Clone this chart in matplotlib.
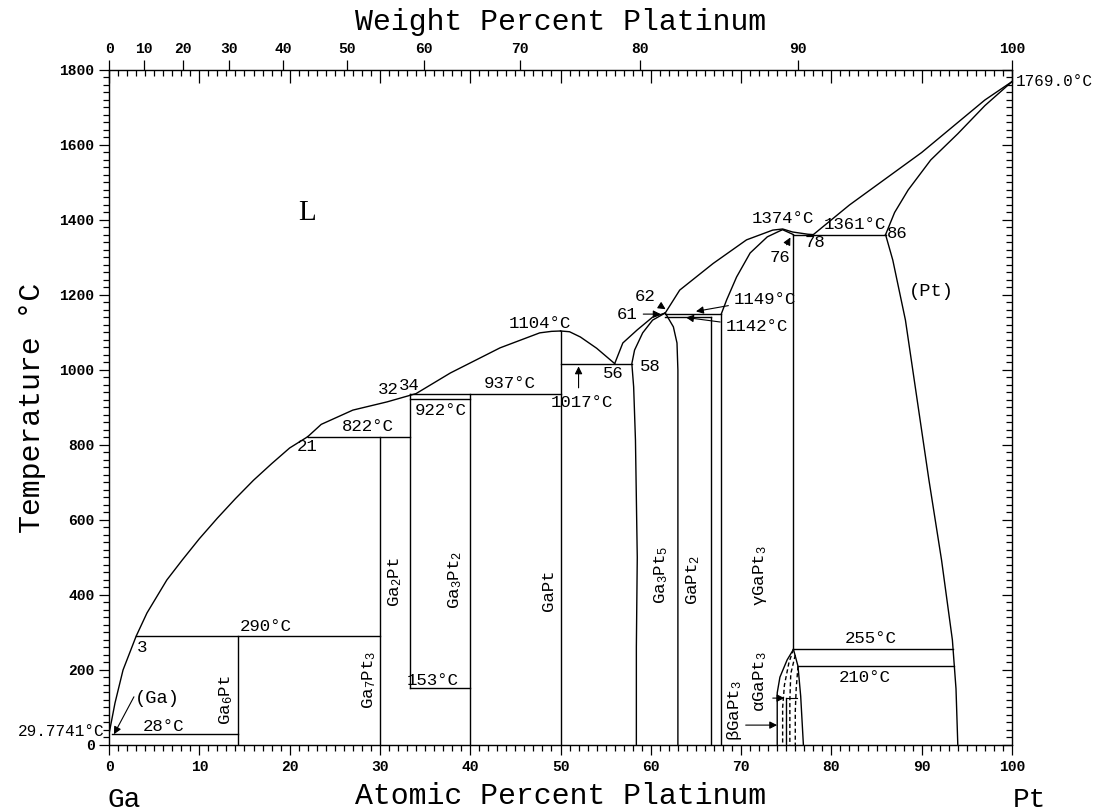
import numpy as np
import matplotlib
matplotlib.use('Agg')
import matplotlib.pyplot as plt

plt.rcParams['font.family'] = ['Liberation Mono', 'DejaVu Sans']
plt.rcParams['mathtext.fontset'] = 'custom'
plt.rcParams['mathtext.rm'] = 'Liberation Mono'
plt.rcParams['mathtext.it'] = 'Liberation Mono'

M_GA = 69.723
M_PT = 195.084

# liquidus pieces (at.% Pt, deg C)
liq1_at = [0, 0.66, 1.55, 3.0, 4.2, 6.4, 8.1, 10, 12, 14, 16, 18, 20, 22]
liq1_T = [29.8, 112, 200, 290, 352, 440, 493, 550, 605, 657, 706, 750, 792, 822]
liq2_at = [22, 23.5, 27.0, 30.8, 34.0, 37.8, 43.3, 47.7, 49, 50]
liq2_T = [822, 855, 893, 915, 937, 992, 1059, 1099, 1103, 1104]
liq3_at = [50, 51, 52.2, 54, 56]
liq3_T = [1104, 1102, 1088, 1058, 1017]
liq4_at = [56, 56.9, 58.5, 60.2, 61.6]
liq4_T = [1017, 1072, 1107, 1141, 1152]
liq5_at = [61.6, 63.2, 66.9, 70.6, 73.5, 74.6, 75.7, 77.4, 78]
liq5_T = [1152, 1213, 1284, 1347, 1373, 1376, 1368, 1362, 1361]
liq6_at = [78, 82, 86, 90, 94, 97, 100]
liq6_T = [1361, 1440, 1510, 1580, 1660, 1720, 1769]

# solidus / solvus pieces
ga3pt5_left_at = [58.4, 58.4, 58.5, 58.3, 58.1, 57.9, 58.2, 59.1, 60.2, 61.6]
ga3pt5_left_T = [0, 261, 500, 813, 955, 1017, 1053, 1099, 1133, 1152]
ga3pt5_right_at = [61.6, 62.5, 62.9, 63.0, 63.0]
ga3pt5_right_T = [1152, 1115, 1072, 1000, 0]
gamma_sol_at = [67.8, 68.4, 69.5, 71.0, 72.9, 74.3, 74.6, 75.8]
gamma_sol_T = [1149, 1187, 1248, 1312, 1355, 1371, 1374, 1361]
pt_sol_at = [86, 87, 88.5, 91, 94, 97, 100]
pt_sol_T = [1361, 1420, 1480, 1560, 1630, 1705, 1769]
pt_solvus_at = [86, 86.8, 88.2, 89.5, 90.8, 92.2, 93.4, 93.8, 94.0]
pt_solvus_T = [1361, 1293, 1133, 920, 707, 493, 280, 150, 0]

# GaPt3 low temperature boundaries
gp3_solid = [([75.8, 75.1, 74.3, 74.0, 74.0], [255, 227, 181, 139, 0]),
             ([75.0, 75.0], [0, 125]),
             ([75.8, 76.3, 76.6, 76.9], [255, 210, 130, 0])]
gp3_dashed = [([75.8, 75.3, 74.8, 74.6, 74.6], [255, 220, 160, 100, 0]),
              ([76.0, 75.5, 75.4, 75.4], [240, 190, 120, 0]),
              ([76.3, 76.1, 76.0, 76.0], [210, 150, 90, 0])]

# invariant lines: (T, x1, x2)
hlines = [(28, 0.3, 14.3), (290, 3.0, 30), (153, 33.3, 40), (822, 22, 33.3),
          (922, 33.3, 40), (937, 33.3, 50), (1017, 50, 57.9),
          (1142, 61.6, 66.7), (1149, 61.6, 67.8), (1361, 75.8, 86)]
# compound lines: (x, T1, T2)
vlines = [(14.3, 0, 290), (30, 0, 822), (33.3, 153, 937), (40, 0, 937),
          (50, 0, 1104), (66.7, 0, 1142), (67.8, 0, 1149), (75.8, 255, 1361)]
solvus_lines = [(255, 75.8), (210, 76.3)]

wt_ticks = np.arange(0, 101, 10)


def wt_to_at(w):
    a = w / M_PT
    b = (100 - w) / M_GA
    return 100 * a / (a + b)


fig = plt.figure(figsize=(10.97, 8.11), dpi=100)
ax = fig.add_axes([0.0994, 0.0814, 0.8231, 0.8323])
ax.set_xlim(0, 100)
ax.set_ylim(0, 1800)

lw = 1.0
for xs, ys in [(liq1_at, liq1_T), (liq2_at, liq2_T), (liq3_at, liq3_T),
               (liq4_at, liq4_T), (liq5_at, liq5_T), (liq6_at, liq6_T),
               (ga3pt5_left_at, ga3pt5_left_T), (ga3pt5_right_at, ga3pt5_right_T),
               (gamma_sol_at, gamma_sol_T), (pt_sol_at, pt_sol_T),
               (pt_solvus_at, pt_solvus_T)]:
    ax.plot(xs, ys, color='k', lw=lw)
for xs, ys in gp3_solid:
    ax.plot(xs, ys, color='k', lw=lw)
for xs, ys in gp3_dashed:
    ax.plot(xs, ys, color='k', lw=lw, ls=(0, (3, 2)))
for T, x1, x2 in hlines:
    ax.plot([x1, x2], [T, T], color='k', lw=lw)
for x, T1, T2 in vlines:
    ax.plot([x, x], [T1, T2], color='k', lw=lw)
for T, x1 in solvus_lines:
    x2 = np.interp(T, pt_solvus_T[::-1], pt_solvus_at[::-1])
    ax.plot([x1, x2], [T, T], color='k', lw=lw)

# text labels
fs = 12.5
labels = [
    (21.9, 1419, 'L', 21), (91.1, 1208, '(Pt)', 13.5),
    (74.6, 1405, '1374°C', fs), (82.6, 1387, '1361°C', fs),
    (87.3, 1363, '86', fs), (78.2, 1339, '78', fs),
    (55.8, 990, '56', fs), (59.9, 1008, '58', fs),
    (52.4, 912, '1017°C', fs), (47.7, 1125, '1104°C', fs),
    (44.4, 965, '937°C', fs), (36.7, 893, '922°C', fs),
    (28.7, 848, '822°C', fs), (30.9, 947, '32', fs), (33.3, 958, '34', fs),
    (21.9, 795, '21', fs), (17.3, 317, '290°C', fs), (3.6, 259, '3', fs),
    (6.0, 48, '28°C', fs), (5.4, 125, '(Ga)', 13.5),
    (35.8, 172, '153°C', fs), (84.3, 283, '255°C', fs), (83.7, 181, '210°C', fs),
]
for x, y, s, size in labels:
    ax.text(x, y, s, ha='center', va='center', fontsize=size,
            family=['Liberation Mono', 'DejaVu Sans'] if s != 'L' else 'Liberation Serif')

ax.text(100.4, 1769, '1769.0°C', ha='left', va='center', fontsize=11.5)
ax.text(-0.5, 36, '29.7741°C', ha='right', va='center', fontsize=11.5)

# arrows with labels
arrow_kw = dict(arrowstyle='-|>', color='k', lw=0.8, mutation_scale=11)
ax.annotate('1149°C', xy=(64.7, 1155), xytext=(69.2, 1189), fontsize=fs,
            ha='left', va='center', arrowprops=arrow_kw)
ax.annotate('1142°C', xy=(63.6, 1141), xytext=(68.3, 1115), fontsize=fs,
            ha='left', va='center', arrowprops=arrow_kw)
ax.annotate('62', xy=(61.9, 1158), xytext=(59.4, 1197), fontsize=fs,
            ha='center', va='center', arrowprops=arrow_kw)
ax.annotate('61', xy=(61.4, 1149), xytext=(57.4, 1149), fontsize=fs,
            ha='center', va='center', arrowprops=arrow_kw)
ax.annotate('76', xy=(75.6, 1360), xytext=(74.3, 1300), fontsize=fs,
            ha='center', va='center', arrowprops=arrow_kw)
ax.annotate('', xy=(52.0, 1017), xytext=(52.0, 945), arrowprops=arrow_kw)
ax.annotate('', xy=(0.4, 22), xytext=(2.9, 135), arrowprops=arrow_kw)
ax.annotate('', xy=(75.1, 125), xytext=(73.2, 125), arrowprops=arrow_kw)
ax.plot([75.1, 76.2], [125, 125], color='k', lw=0.8)
ax.annotate('', xy=(74.3, 53), xytext=(70.2, 53), arrowprops=arrow_kw)

# rotated phase labels
phases = [
    (13.0, 120, 'Ga$_6$Pt'), (28.8, 173, 'Ga$_7$Pt$_3$'),
    (31.7, 435, 'Ga$_2$Pt'), (38.3, 440, 'Ga$_3$Pt$_2$'),
    (48.7, 413, 'GaPt'), (61.2, 453, 'Ga$_3$Pt$_5$'),
    (64.7, 440, 'GaPt$_2$'), (72.1, 453, 'γGaPt$_3$'),
    (69.3, 91, 'βGaPt$_3$'), (72.1, 168, 'αGaPt$_3$'),
]
for x, y, s in phases:
    ax.text(x, y, s, rotation=90, ha='center', va='center', fontsize=fs)

# bottom / left ticks (outward)
ax.set_xticks(np.arange(0, 101, 10))
ax.set_xticks(np.arange(0, 101, 1), minor=True)
ax.set_yticks(np.arange(0, 1801, 200))
ax.set_yticks(np.arange(0, 1801, 20), minor=True)
ax.tick_params(which='both', direction='out', width=0.9, labelsize=10.5,
               top=False, right=False)
ax.tick_params(which='major', length=7)
ax.tick_params(which='minor', length=4)
for t in ax.get_xticklabels() + ax.get_yticklabels():
    t.set_fontweight('bold')

# top inner ticks on the atomic scale
ax3 = ax.twiny()
ax3.set_xlim(0, 100)
ax3.set_xticks(np.arange(0, 101, 10))
ax3.set_xticks(np.arange(0, 101, 1), minor=True)
ax3.tick_params(which='both', direction='in', width=0.9, labeltop=False)
ax3.tick_params(which='major', length=9)
ax3.tick_params(which='minor', length=4)

# right inner ticks
ax4 = ax.twinx()
ax4.set_ylim(0, 1800)
ax4.set_yticks(np.arange(0, 1801, 200))
ax4.set_yticks(np.arange(0, 1801, 20), minor=True)
ax4.tick_params(which='both', direction='in', width=0.9, labelright=False)
ax4.tick_params(which='major', length=7)
ax4.tick_params(which='minor', length=4)

# weight percent scale on top
ax2 = ax.twiny()
ax2.set_xlim(0, 100)
ax2.set_xticks([wt_to_at(w) for w in wt_ticks])
ax2.set_xticklabels([str(w) for w in wt_ticks], fontweight='bold')
ax2.xaxis.set_minor_locator(plt.NullLocator())
ax2.tick_params(axis='x', which='major', top=True, direction='out',
                length=7, labelsize=10.5, width=0.9, pad=3)
ax2.set_xlabel('Weight Percent Platinum', fontsize=21.5, labelpad=9)

ax.set_xlabel('Atomic Percent Platinum', fontsize=21.5, labelpad=6)
ax.set_ylabel('Temperature °C', fontsize=21.5, labelpad=10)
fig.text(124 / 1097, 1 - 800 / 811, 'Ga', fontsize=20, ha='center', va='center')
fig.text(1029 / 1097, 1 - 800 / 811, 'Pt', fontsize=20, ha='center', va='center')

fig.savefig('out.png', dpi=100)
